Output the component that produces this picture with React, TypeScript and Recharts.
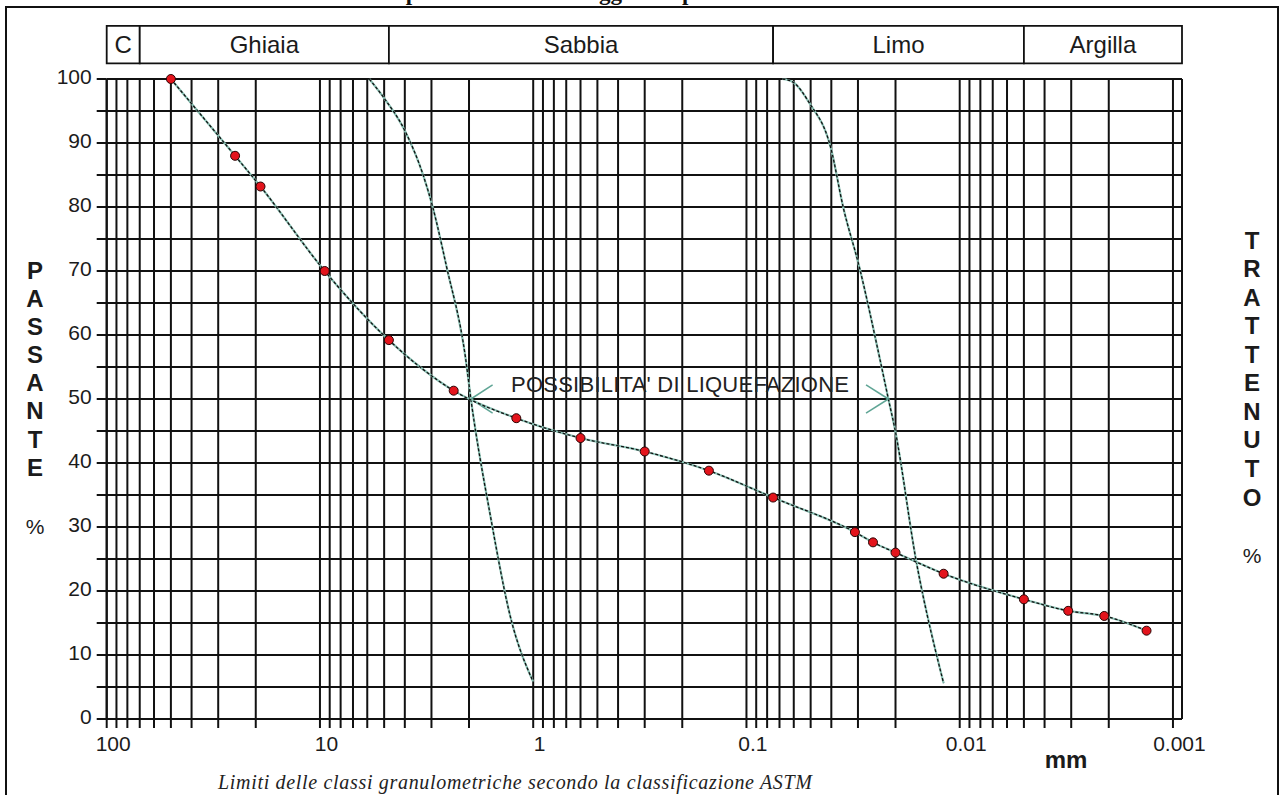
import { LineChart, Line, XAxis, YAxis, CartesianGrid, ReferenceArea, ReferenceLine } from 'recharts'

// curva granulometrica: diametro (mm) / passante (%)
const sizes = [50, 25, 19, 9.5, 4.75, 2.36, 1.2, 0.6, 0.3, 0.15, 0.075, 0.031, 0.0255, 0.02, 0.0119, 0.005, 0.0031, 0.0021, 0.00133]
const passing = [100, 88, 83.2, 70, 59.2, 51.3, 47, 43.9, 41.8, 38.8, 34.6, 29.2, 27.6, 26, 22.7, 18.7, 16.9, 16.1, 13.8]

// fuso delle possibilita' di liquefazione
const liqLeftSizes = [5.87, 5.05, 3.98, 3.26, 2.96, 2.55, 2.08, 1.96, 1.585, 1.28, 1.0]
const liqLeftPerc = [100, 97.2, 91.8, 84.7, 80, 70.7, 56.6, 50, 31.6, 16, 5.8]
const liqRightSizes = [0.0678, 0.0604, 0.0508, 0.0402, 0.0352, 0.0296, 0.0238, 0.0216, 0.0201, 0.016, 0.0119]
const liqRightPerc = [100, 99.5, 96.3, 89.2, 80, 70.7, 56.6, 50, 45.2, 24.7, 5.6]

// classi ASTM (banda in alto)
const classNames = ['C', 'Ghiaia', 'Sabbia', 'Limo', 'Argilla']
const classLimits = [100, 70, 4.75, 0.075, 0.005, 0.000907]

const decades = [100, 10, 1, 0.1, 0.01, 0.001]
const decadeLabels = ['100', '10', '1', '0.1', '0.01', '0.001']
const multipliers = [1, 2, 3, 4, 5, 6, 7, 8, 9]
const percentTicks = [0, 5, 10, 15, 20, 25, 30, 35, 40, 45, 50, 55, 60, 65, 70, 75, 80, 85, 90, 95, 100]

// arrow heads of the annotation: tip size, arm end size
const arrowTips = [1.96, 0.0216]
const arrowArms = [1.55, 0.0275]

const passanteLetters = ['P', 'A', 'S', 'S', 'A', 'N', 'T', 'E']
const trattenutoLetters = ['T', 'R', 'A', 'T', 'T', 'E', 'N', 'U', 'T', 'O']

const X_MAX = 100
const X_MIN = 0.000907

const gridTicks = [100, ...decades.slice(1).flatMap(d => multipliers.map(m => m * d))]

const mainData = sizes.map((d, i) => ({ d, p: passing[i] }))
const liqLeft = liqLeftSizes.map((d, i) => ({ d, p: liqLeftPerc[i] }))
const liqRight = liqRightSizes.map((d, i) => ({ d, p: liqRightPerc[i] }))

const SANS = '"Liberation Sans", Arial, sans-serif'
const SERIF = '"Liberation Serif", "Times New Roman", serif'
const INK = '#1b1b1b'
const TEAL = '#8cc3b6'
const GRID = '#111'

function XTick({ x, y, payload }: any) {
  const i = decades.findIndex(d => Math.abs(d - payload.value) < d * 1e-6)
  if (i < 0) return null
  return (
    <text x={x + 6.5} y={y + 21} textAnchor="middle" fontSize={21} fontFamily={SANS} fill={INK}>
      {decadeLabels[i]}
    </text>
  )
}

function LeftTick({ x, y, payload }: any) {
  if (payload.value % 10 !== 0) return null
  return (
    <text x={x - 3} y={y + 5} textAnchor="end" fontSize={21} fontFamily={SANS} fill={INK}>
      {payload.value}
    </text>
  )
}

function RightTick({ x, y, payload }: any) {
  if (payload.value % 10 !== 0) return null
  return (
    <text x={x + 2} y={y + 4.5} textAnchor="start" fontSize={21} fontFamily={SANS} fill={INK}>
      {payload.value}
    </text>
  )
}

export default function App() {
  return (
    <div style={{ position: 'absolute', left: 0, top: 0, width: 1283, height: 795, overflow: 'hidden', background: '#fff' }}>
      <div style={{ position: 'absolute', left: 5, top: 6, width: 1274, height: 830, border: '2px solid #111', boxSizing: 'border-box' }} />

      <LineChart width={1283} height={795} margin={{ top: 79, right: 6, bottom: 36, left: 6.7 }}>
        <CartesianGrid stroke={GRID} strokeWidth={2} />
        <XAxis
          dataKey="d"
          type="number"
          scale="log"
          domain={[X_MIN, X_MAX]}
          reversed
          allowDataOverflow
          ticks={gridTicks}
          interval={0}
          tickSize={9}
          height={40}
          stroke={GRID}
          tickLine={{ stroke: GRID, strokeWidth: 2 }}
          axisLine={{ stroke: GRID, strokeWidth: 2 }}
          tick={<XTick />}
        />
        <YAxis
          type="number"
          domain={[0, 100]}
          ticks={percentTicks}
          interval={0}
          width={100}
          tickSize={10}
          tickLine={{ stroke: GRID, strokeWidth: 2 }}
          axisLine={{ stroke: GRID, strokeWidth: 2 }}
          tick={<LeftTick />}
        />
        <YAxis
          yAxisId="ret"
          orientation="right"
          type="number"
          domain={[0, 100]}
          reversed
          ticks={percentTicks}
          interval={0}
          width={95}
          tickSize={8}
          tickLine={{ stroke: GRID, strokeWidth: 2 }}
          axisLine={{ stroke: GRID, strokeWidth: 2 }}
          tick={<RightTick />}
        />

        {classNames.map((name, i) => (
          <ReferenceArea
            key={name}
            x1={classLimits[i]}
            x2={classLimits[i + 1]}
            y1={102.45}
            y2={108.3}
            ifOverflow="visible"
            fill="#fff"
            fillOpacity={1}
            stroke={GRID}
            strokeWidth={1.8}
            label={{ value: name, position: 'center', fill: INK, fontSize: 24, fontFamily: SANS }}
          />
        ))}

        <Line data={liqLeft} dataKey="p" type="monotone" stroke={TEAL} strokeWidth={2.2} dot={false} isAnimationActive={false} />
        <Line data={liqLeft} dataKey="p" type="monotone" stroke="#111" strokeWidth={1.3} strokeDasharray="3 2" dot={false} isAnimationActive={false} />
        <Line data={liqRight} dataKey="p" type="monotone" stroke={TEAL} strokeWidth={2.2} dot={false} isAnimationActive={false} />
        <Line data={liqRight} dataKey="p" type="monotone" stroke="#111" strokeWidth={1.3} strokeDasharray="3 2" dot={false} isAnimationActive={false} />

        {arrowTips.map((tip, i) => (
          <ReferenceLine key={'up' + i} segment={[{ x: tip, y: 50 }, { x: arrowArms[i], y: 52.2 }]} stroke="#5fa595" strokeWidth={1.5} ifOverflow="visible" />
        ))}
        {arrowTips.map((tip, i) => (
          <ReferenceLine key={'dn' + i} segment={[{ x: tip, y: 50 }, { x: arrowArms[i], y: 47.8 }]} stroke="#5fa595" strokeWidth={1.5} ifOverflow="visible" />
        ))}

        <Line data={mainData} dataKey="p" type="monotone" stroke={TEAL} strokeWidth={2.2} dot={false} isAnimationActive={false} />
        <Line
          data={mainData}
          dataKey="p"
          type="monotone"
          stroke="#111"
          strokeWidth={1.3}
          strokeDasharray="3 2"
          dot={{ r: 4.5, fill: '#e3141c', stroke: '#2a0505', strokeWidth: 1, strokeDasharray: '' }}
          isAnimationActive={false}
        />
      </LineChart>

      <svg width={1283} height={795} style={{ position: 'absolute', left: 0, top: 0, pointerEvents: 'none' }}>
        <text x={255} y={-0.5} fontFamily={SERIF} fontWeight="bold" fontSize={23} fill="#111">
          Analisi del campione del terreno soggetto a prova
        </text>
        {passanteLetters.map((c, i) => (
          <text key={'p' + i} x={35} y={270 + i * 28.15 + 8.6} textAnchor="middle" fontFamily={SANS} fontWeight="bold" fontSize={24} fill={INK}>
            {c}
          </text>
        ))}
        <text x={35} y={534} textAnchor="middle" fontFamily={SANS} fontSize={21} fill={INK}>%</text>
        {trattenutoLetters.map((c, i) => (
          <text key={'t' + i} x={1252} y={240 + i * 28.55 + 8.6} textAnchor="middle" fontFamily={SANS} fontWeight="bold" fontSize={24} fill={INK}>
            {c}
          </text>
        ))}
        <text x={1252} y={563} textAnchor="middle" fontFamily={SANS} fontSize={21} fill={INK}>%</text>
        <text x={1066} y={768} textAnchor="middle" fontFamily={SANS} fontWeight="bold" fontSize={24} fill={INK}>mm</text>
        <text x={511} y={392} fontFamily={SANS} fontSize={22} fill="#222" textLength={338}>
          POSSIBILITA' DI LIQUEFAZIONE
        </text>
        <text x={218} y={789} fontFamily={SERIF} fontStyle="italic" fontSize={20} fill="#222" textLength={594}>
          Limiti delle classi granulometriche secondo la classificazione ASTM
        </text>
      </svg>
    </div>
  )
}
